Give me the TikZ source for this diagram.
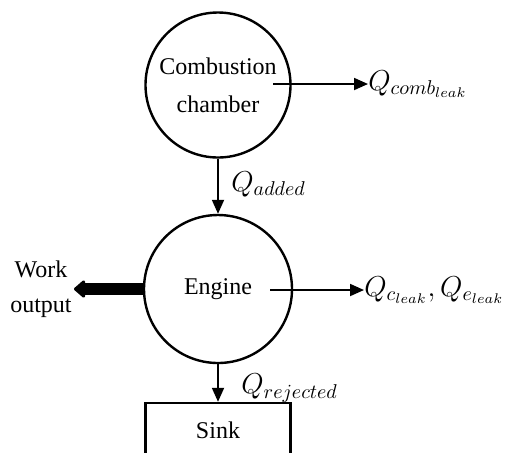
\documentclass[tikz,border=0pt]{standalone}
\usepackage{fontspec}
\setmainfont{Liberation Serif}
\usetikzlibrary{arrows.meta}

\begin{document}
\begin{tikzpicture}[x=0.5pt, y=-0.5pt]

% Define styles
\tikzstyle{chamber} = [circle, draw=black, line width=1.2pt, align=center, font=\fontsize{12}{19}\selectfont, inner sep=0pt]
\tikzstyle{sinkbox} = [rectangle, draw=black, line width=1.2pt, minimum width=72.5pt, minimum height=27pt, font=\fontsize{12}{14}\selectfont]
\tikzstyle{heat} = [line width=0.9pt, -{Triangle[length=7pt, width=6pt]}]
\tikzstyle{qlabel} = [font=\fontsize{14}{16}\selectfont, inner sep=0pt]

\clip (0,0) rectangle (506,452);
\useasboundingbox (0,0) rectangle (506,452);

% Main blocks
\node [chamber, minimum size=72.5pt] (comb) at (218,85) {Combustion\\chamber};
\node [chamber, minimum size=74pt] (engine) at (218,289) {Engine};
\node [sinkbox] (sink) at (218,430) {Sink};

% Free starts of the leak arrows
\coordinate (combstart) at (273,84);
\coordinate (enginestart) at (270,290);

% Labels
\node [qlabel, anchor=west] (combleak) at (368,84) {$Q_{comb_{leak}}$};
\node [qlabel, anchor=west] (engleak) at (364,290) {$Q_{c_{leak}}, Q_{e_{leak}}$};
\node [qlabel, anchor=west] (added) at (231,184) {$Q_{added}$};
\node [qlabel, anchor=west] (rejected) at (241,388) {$Q_{rejected}$};
\node [align=center, font=\fontsize{12}{17.5}\selectfont, inner sep=1pt, anchor=east] (work) at (74,289) {Work\\output};

% Heat flows
\draw [heat] (combstart) -- (combleak.west);
\draw [heat] (enginestart) -- (engleak.west);
\draw [heat] (comb.south) -- (engine.north);
\draw [heat] (engine.south) -- (sink.north);

% Work output
\draw [line width=6pt, -{Triangle[length=6pt, width=10pt, round]}] (engine.west) -- (work.east);

\end{tikzpicture}
\end{document}
